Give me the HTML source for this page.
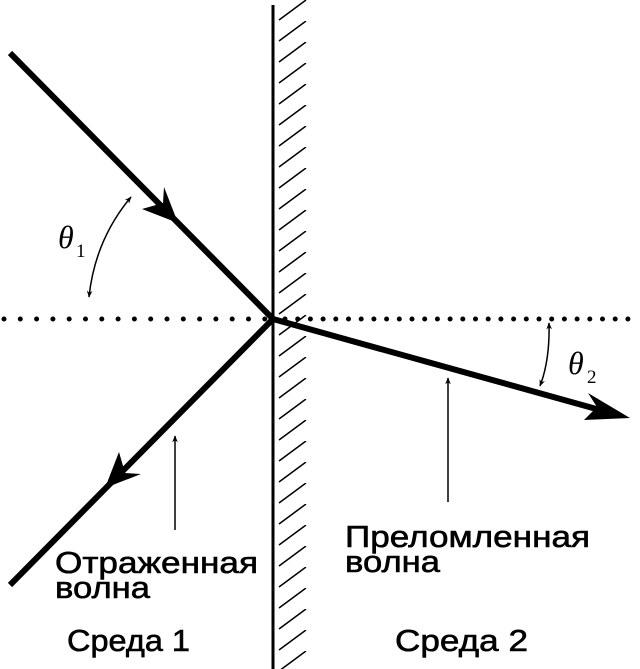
<!DOCTYPE html>
<html><head><meta charset="utf-8"><style>
html,body{margin:0;padding:0;background:#fff;}
svg{display:block}
text{font-family:"Liberation Sans",sans-serif;fill:#000}
.l{stroke:#000;stroke-width:0.6}
</style></head><body>
<svg width="640" height="669" viewBox="0 0 640 669" xmlns="http://www.w3.org/2000/svg">
<defs>
<marker id="sm" viewBox="0 0 10 10" refX="9" refY="5" markerWidth="7" markerHeight="7" orient="auto-start-reverse" markerUnits="userSpaceOnUse"><path d="M0,1 L10,5 L0,9 L3,5 Z" fill="#000"/></marker>
<pattern id="h" width="30" height="21" patternUnits="userSpaceOnUse" x="278" y="0"><line x1="1" y1="20" x2="28" y2="0" stroke="#000" stroke-width="1.5"/></pattern>
</defs>
<rect x="278" y="0" width="29" height="669" fill="url(#h)"/>
<line x1="273" y1="5" x2="273" y2="669" stroke="#000" stroke-width="3"/>
<line x1="4" y1="319" x2="272" y2="319" stroke="#000" stroke-width="5" stroke-linecap="round" stroke-dasharray="0 16.3"/>
<line x1="285" y1="319" x2="640" y2="319" stroke="#000" stroke-width="5" stroke-linecap="round" stroke-dasharray="0 12.7"/>
<g stroke="#000" stroke-width="6" fill="none">
<line x1="10" y1="53" x2="273" y2="319"/>
<line x1="273" y1="319" x2="10" y2="585"/>
<line x1="273" y1="319" x2="600" y2="410"/>
</g>
<path d="M178,223 L142,209 L163,203 L164,187 Z" fill="#000"/>
<path d="M105,488 L119,452 L125,473 L141,474 Z" fill="#000"/>
<path d="M630,418 L584,420 L597,407 L588,393 Z" fill="#000"/>
<path d="M131,197 Q95,240 89,297" stroke="#000" stroke-width="1.5" fill="none" marker-start="url(#sm)" marker-end="url(#sm)"/>
<path d="M549,323 Q550,360 540,386" stroke="#000" stroke-width="1.5" fill="none" marker-start="url(#sm)" marker-end="url(#sm)"/>
<line x1="175" y1="530" x2="175" y2="436" stroke="#000" stroke-width="1.5" marker-end="url(#sm)"/>
<line x1="448" y1="502" x2="448" y2="378" stroke="#000" stroke-width="1.5" marker-end="url(#sm)"/>
<text x="58" y="248" style="font-family:'Liberation Serif',serif" font-style="italic" font-size="32">θ</text>
<text x="76" y="257" style="font-family:'Liberation Serif',serif" font-size="19">1</text>
<text x="568" y="374" style="font-family:'Liberation Serif',serif" font-style="italic" font-size="32">θ</text>
<text x="587" y="383" style="font-family:'Liberation Serif',serif" font-size="19">2</text>
<text class="l" x="55" y="573" font-size="31" textLength="203" lengthAdjust="spacingAndGlyphs">Отраженная</text>
<text class="l" x="55" y="598" font-size="31" textLength="95" lengthAdjust="spacingAndGlyphs">волна</text>
<text class="l" x="345" y="547" font-size="31" textLength="245" lengthAdjust="spacingAndGlyphs">Преломленная</text>
<text class="l" x="345" y="572" font-size="31" textLength="95" lengthAdjust="spacingAndGlyphs">волна</text>
<text class="l" x="67" y="651" font-size="31" textLength="123" lengthAdjust="spacingAndGlyphs">Среда 1</text>
<text class="l" x="395" y="651" font-size="31" textLength="133" lengthAdjust="spacingAndGlyphs">Среда 2</text>
</svg>
</body></html>
